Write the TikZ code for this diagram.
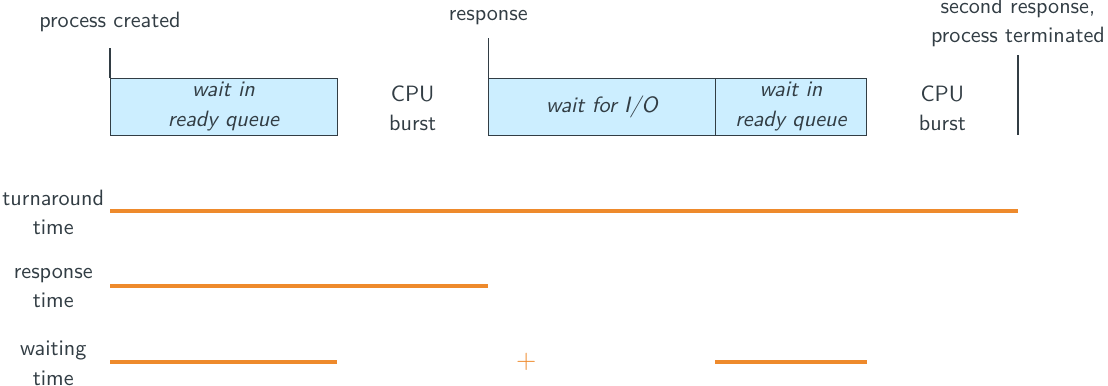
\documentclass[tikz,border=0pt]{standalone}
\definecolor{ink}{HTML}{323D44}
\definecolor{bar}{HTML}{EE8A2C}
\definecolor{queue}{HTML}{CCEEFF}
\tikzset{
	waitbox/.style={fill=queue, draw=ink},
	timebar/.style={draw=bar, line width=1.8pt},
	tick/.style={draw=ink, line width=0.5pt},
}
\begin{document}
\begin{tikzpicture}[x=1.2cm, y=1.2cm, every node/.style={text=ink, font=\sffamily, align=center,
		execute at begin node=\setlength{\baselineskip}{13.2pt}}]
	\useasboundingbox (-1.454,-3.317) rectangle (13.19,1.784);
	% waiting boxes
	\draw[waitbox] (0,0) rectangle (3,0.75);
	\draw[waitbox] (5,0) rectangle (8,0.75);
	\draw[waitbox] (8,0) rectangle (10,0.75);
	\node (ready1) at (1.5,0.375) {\itshape wait in\\\itshape ready queue};
	\node (io) at (6.5,0.375) {\itshape wait for I/O};
	\node (ready2) at (9,0.375) {\itshape wait in\\\itshape ready queue};
	\node (burst1) at (4,0.357) {CPU\\burst};
	\node (burst2) at (11,0.357) {CPU\\burst};
	% events
	\draw[tick] (0,0.75) -- (0,1.15);
	\draw[tick] (5,0.75) -- (5,1.28);
	\draw[tick] (12,0) -- (12,1.06);
	\node (created) at (0,1.5) {process created};
	\node (response) at (5,1.546) {response};
	\node (terminated) at (12,1.49) {second response,\\process terminated};
	% measures
	\node (turnaround) at (-0.75,-1.02) {turnaround\\time};
	\node (resptime) at (-0.75,-2.02) {response\\time};
	\node (waiting) at (-0.75,-3.02) {waiting\\time};
	\draw[timebar] (0,-1) -- (12,-1);
	\draw[timebar] (0,-2) -- (5,-2);
	\draw[timebar] (0,-3) -- (3,-3);
	\node[text=bar, font=\sffamily\large] (plus) at (5.5,-3) {+};
	\draw[timebar] (8,-3) -- (10,-3);
\end{tikzpicture}
\end{document}
